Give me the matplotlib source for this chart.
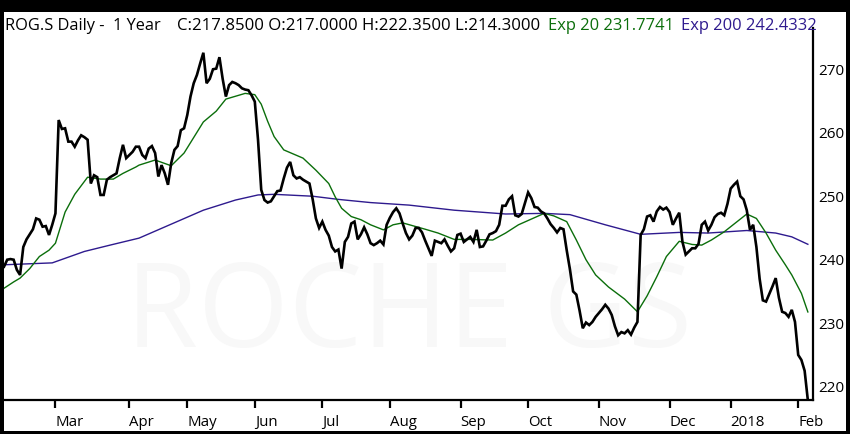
import matplotlib
matplotlib.use("Agg")
import matplotlib.pyplot as plt
from matplotlib.patches import Rectangle

# ---- data ----
close = [
    238.9, 240.0, 240.1, 240.0, 238.4, 237.6, 242.0, 243.2, 244.0, 244.8,
    246.5, 246.3, 245.2, 245.3, 243.9, 245.5, 247.3, 262.0, 260.6, 260.7,
    258.6, 258.6, 257.8, 258.8, 259.6, 259.3, 258.9, 252.0, 253.3, 253.0,
    250.2, 250.2, 252.6, 253.0, 253.3, 253.6, 256.0, 258.1, 256.0, 256.5,
    257.0, 257.8, 257.8,
    256.5, 256.0, 257.5, 257.9, 256.8, 253.1, 254.9, 253.6, 251.8, 255.2,
    257.3, 257.9, 260.4, 260.7, 262.8, 265.7, 267.8, 269.1, 270.9, 272.6,
    267.8, 268.5, 270.0, 270.1, 271.9, 268.5, 265.7, 267.5, 268.0, 267.8,
    267.5, 267.0, 266.8, 266.7, 265.9, 264.9, 258.9, 251.0, 249.4, 249.0,
    249.2,
    250.0, 250.8, 250.9, 252.8, 254.5, 255.4, 253.3, 252.8, 253.0, 252.6,
    252.3, 252.0, 249.5, 246.5, 245.0, 246.0, 244.7, 243.8, 242.0, 241.3,
    241.6, 238.6, 242.8, 243.6, 245.7, 246.0, 243.2, 244.0, 245.1, 244.0,
    242.6, 242.3, 242.6, 243.0, 242.4, 245.5, 246.6, 247.5, 248.1, 247.3,
    245.7, 244.2,
    243.2, 243.8, 245.0, 245.0, 244.3, 243.0, 241.8, 240.6, 243.0, 242.8,
    242.6, 243.2, 242.2, 241.3, 241.8, 243.9, 244.1, 242.8, 243.2, 243.6,
    242.8, 244.7, 242.0, 242.1, 243.0, 244.0, 244.2, 244.5, 245.5, 248.5,
    248.5, 249.5, 250.0, 247.0, 246.8, 247.2, 248.9, 250.6, 249.7, 248.3,
    248.2, 247.6,
    247.3, 246.5, 245.6, 245.0, 244.3, 245.0, 244.8, 241.5, 238.5, 235.0,
    234.5, 232.0, 229.2, 230.1, 229.7, 230.2, 231.0, 231.6, 232.2, 232.9,
    232.3, 231.3, 229.5, 228.1, 228.6, 228.4, 228.9, 228.2, 229.3, 230.2,
    243.9, 244.8, 246.8, 247.0, 246.0, 247.6, 248.3, 247.9, 248.2, 247.5,
    245.5, 246.5, 247.4,
    242.8, 240.8, 241.3, 241.8, 241.8, 242.5, 245.5, 246.0, 244.6, 245.5,
    246.7, 247.2, 247.4, 247.0, 248.8, 251.2, 251.8, 252.3, 250.0, 249.5,
    247.8, 244.7, 245.5, 242.0, 237.0, 233.6, 233.4, 234.6, 235.8, 237.1,
    234.0, 231.8, 231.6, 231.0, 232.1, 230.2, 225.0, 224.2, 222.5, 217.85,
]

ema20_idx = [0, 3, 5, 8, 11, 14, 16, 19, 22, 26,
             30, 34, 37, 41, 42, 47, 52, 56, 62, 66,
             69, 75, 78, 80, 82, 84, 87, 93, 97, 101,
             103, 105, 108, 111, 114, 118, 121, 124, 131, 135,
             140, 145, 152, 156, 160, 164, 168, 171, 175, 178,
             181, 184, 188, 193, 197, 200, 203, 206, 210, 214,
             217, 220, 224, 228, 231, 234, 237, 240, 243, 245,
             248, 250]
ema20_val = [235.5, 236.5, 237.1, 238.6, 240.5, 241.5, 242.6, 247.5, 250.3, 253.0,
             252.7, 252.7, 253.6, 254.6, 254.9, 255.7, 254.8, 256.8, 261.7, 263.4,
             265.3, 266.2, 266.0, 264.5, 261.8, 259.4, 257.3, 256.0, 254.1, 252.0,
             249.9, 248.1, 246.8, 246.3, 245.5, 244.7, 245.5, 245.8, 244.8, 244.2,
             243.2, 243.2, 243.1, 244.2, 245.5, 246.4, 247.3, 246.9, 246.0, 243.1,
             240.0, 237.6, 235.7, 233.8, 231.8, 234.3, 237.3, 240.5, 242.9, 242.4,
             242.3, 243.1, 244.4, 246.0, 247.2, 246.5, 244.2, 241.5, 239.2, 237.6,
             234.7, 231.77]

ema200_idx = [0, 15, 25, 33, 42, 52, 62, 72, 79, 84, 96, 104, 114, 126,
              140, 156, 168, 176, 187, 198, 210, 219, 231, 240, 245, 250]
ema200_val = [239.2, 239.5, 241.3, 242.3, 243.4, 245.6, 247.8, 249.4, 250.2, 250.3,
              250.0, 249.5, 249.0, 248.6, 247.8, 247.2, 247.3, 247.1, 245.5, 244.0,
              244.3, 244.2, 244.6, 244.2, 243.6, 242.43]

tick_idx = [16, 39, 57, 78, 99, 120, 142, 163, 185, 207, 226, 247]
tick_labels = ["Mar", "Apr", "May", "Jun", "Jul", "Aug", "Sep", "Oct",
               "Nov", "Dec", "2018", "Feb"]
yticks = [220, 230, 240, 250, 260, 270]

title_main = "ROG.S Daily -  1 Year"
title_ohlc = "C:217.8500 O:217.0000 H:222.3500 L:214.3000"
title_ema20 = "Exp 20 231.7741"
title_ema200 = "Exp 200 242.4332"
watermark = "ROCHE GS"

# ---- figure ----
W, H = 850, 434
FONT = "Open Sans"
fig = plt.figure(figsize=(W / 100, H / 100), dpi=100, facecolor="black")
fig.patches.append(Rectangle((4 / W, 3 / H), 842 / W, 419 / H,
                             transform=fig.transFigure, facecolor="white",
                             edgecolor="none", zorder=-5))

ax = fig.add_axes([4 / W, 34 / H, 809 / W, 372 / H])
ax.set_zorder(2)
ax.set_facecolor("white")

GREEN = "#0b6e0b"
PURPLE = "#2e1a8e"

ax.text(0.5, 0.225, watermark, transform=ax.transAxes, ha="center", va="center",
        fontsize=84, color="#f8f8f8", family=FONT, zorder=0)

ax.plot(ema200_idx, ema200_val, color=PURPLE, lw=1.0, zorder=2)
ax.plot(ema20_idx, ema20_val, color=GREEN, lw=1.0, zorder=2)
ax.plot(range(len(close)), close, color="black", lw=1.9, zorder=3,
        solid_joinstyle="miter")

ax.set_xlim(0, 251.6)
ax.set_ylim(217.9, 276.5)

for s in ("left", "top"):
    ax.spines[s].set_visible(False)
for s in ("right", "bottom"):
    ax.spines[s].set_linewidth(1.6)
    ax.spines[s].set_color("black")

ax.set_xticks(tick_idx)
ax.set_xticklabels(tick_labels, family=FONT, fontsize=10.8)
for lbl in ax.get_xticklabels():
    lbl.set_ha("left")
ax.tick_params(axis="x", direction="out", length=6, width=1.6, pad=5, colors="black")

ax.yaxis.tick_right()
ax.set_yticks(yticks)
ax.set_yticklabels([str(v) for v in yticks], family=FONT, fontsize=11)
ax.tick_params(axis="y", length=0, pad=3.5, colors="black")

ty = 1 - 30 / H
fig.text(5 / W, ty, title_main, family=FONT, fontsize=11.8, color="black", va="baseline")
fig.text(177 / W, ty, title_ohlc, family=FONT, fontsize=12.1, color="black", va="baseline")
fig.text(548 / W, ty, title_ema20, family=FONT, fontsize=11.9, color=GREEN, va="baseline")
fig.text(681 / W, ty, title_ema200, family=FONT, fontsize=11.9, color=PURPLE, va="baseline")

fig.savefig("out.png", dpi=100, facecolor="black")
